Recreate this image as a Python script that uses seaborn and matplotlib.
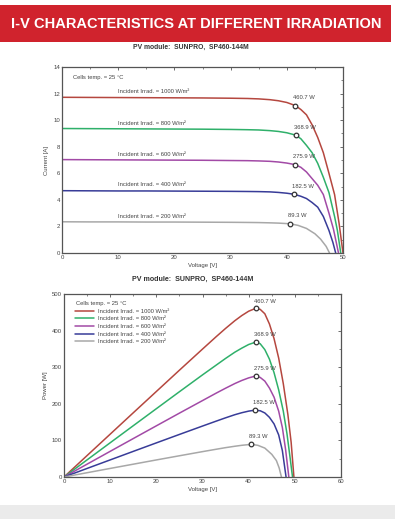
import matplotlib
matplotlib.use("Agg")
import matplotlib.pyplot as plt
import seaborn as sns
import pandas as pd
from matplotlib.patches import Rectangle
from matplotlib.ticker import MultipleLocator
from matplotlib.lines import Line2D

sns.set_theme(style="white")
plt.rcParams['font.family'] = ['Liberation Sans', 'DejaVu Sans']

# ---------------- data ----------------
irrad_labels = ["1000", "800", "600", "400", "200"]
colors = ["#b5473f", "#2fb06a", "#a24aa6", "#383c98", "#a8a8a8"]

# I-V curves (voltage [V], current [A])
iv_v_1000 = [0, 5, 10, 15, 20, 25, 30, 33, 35, 37, 38.5, 40, 41.5, 42.5, 43.5, 44.5, 45.5, 46.5, 47.5, 48.5, 49.3, 50]
iv_i_1000 = [11.72, 11.71, 11.70, 11.69, 11.68, 11.67, 11.65, 11.63, 11.6, 11.54, 11.46, 11.33, 11.1, 10.8, 10.4, 9.65, 8.7, 7.55, 6.0, 4.4, 2.24, 0]

iv_v_800 = [0, 5, 10, 15, 20, 25, 30, 33, 35, 37, 38.5, 40, 41.6, 42.5, 43.5, 44.5, 45.5, 46.5, 47.5, 48.5, 49.0, 49.6]
iv_i_800 = [9.37, 9.36, 9.35, 9.34, 9.33, 9.32, 9.30, 9.28, 9.26, 9.21, 9.15, 9.05, 8.87, 8.6, 8.1, 7.55, 6.75, 5.7, 4.55, 2.75, 1.7, 0]

iv_v_600 = [0, 5, 10, 15, 20, 25, 30, 33, 35, 37, 38.5, 40, 41.5, 42.5, 43.5, 44.5, 45.5, 46.5, 47.5, 48.3, 49.2]
iv_i_600 = [7.03, 7.02, 7.01, 7.0, 6.99, 6.98, 6.96, 6.95, 6.93, 6.9, 6.85, 6.77, 6.65, 6.45, 6.1, 5.6, 5.1, 4.4, 3.0, 1.8, 0]

iv_v_400 = [0, 5, 10, 15, 20, 25, 30, 33, 35, 37, 38.5, 40, 41.3, 42.5, 43.5, 44.5, 45.5, 46.5, 47.5, 48.2, 48.7]
iv_i_400 = [4.69, 4.68, 4.67, 4.67, 4.66, 4.65, 4.64, 4.63, 4.62, 4.6, 4.56, 4.5, 4.42, 4.27, 4.1, 3.8, 3.45, 2.75, 1.7, 0.8, 0]

iv_v_200 = [0, 5, 10, 15, 20, 25, 30, 33, 35, 37, 38.5, 40.6, 42, 43.5, 45, 46, 47, 47.6]
iv_i_200 = [2.35, 2.34, 2.34, 2.33, 2.33, 2.32, 2.31, 2.3, 2.29, 2.27, 2.25, 2.2, 2.08, 1.85, 1.45, 1.05, 0.5, 0]

# P-V curves (voltage [V], power [W])
pv_v_1000 = [0, 5, 10, 15, 20, 25, 30, 33, 35, 37, 38.5, 40, 41.5, 42.5, 43.5, 44.5, 45.5, 46.5, 47.5, 48.5, 49.2, 49.8]
pv_p_1000 = [0, 58.6, 117, 175.4, 233.6, 291.8, 349.5, 383.8, 406, 427, 441, 453, 460.7, 458, 446, 418, 378, 325, 255, 170, 95, 0]

pv_v_800 = [0, 5, 10, 15, 20, 25, 30, 33, 35, 37, 38.5, 40, 41.6, 42.5, 43.5, 44.5, 45.5, 46.5, 47.5, 48.3, 49.0, 49.5]
pv_p_800 = [0, 46.8, 93.5, 140.1, 186.6, 233, 279, 306, 324, 341, 352, 362, 368.9, 364, 348, 322, 285, 238, 180, 118, 50, 0]

pv_v_600 = [0, 5, 10, 15, 20, 25, 30, 33, 35, 37, 38.5, 40, 41.5, 42.5, 43.5, 44.5, 45.5, 46.5, 47.3, 48.0, 48.7]
pv_p_600 = [0, 35.1, 70.1, 105, 139.8, 174.5, 208.8, 229.4, 242.6, 255.3, 263.7, 270.8, 275.9, 272, 262, 243, 218, 180, 135, 75, 0]

pv_v_400 = [0, 5, 10, 15, 20, 25, 30, 33, 35, 37, 38.5, 40, 41.3, 42.5, 43.5, 44.5, 45.5, 46.5, 47.3, 48.1]
pv_p_400 = [0, 23.4, 46.7, 70, 93.2, 116.3, 139.2, 152.8, 161.7, 170.2, 175.6, 180, 182.5, 181, 175, 163, 145, 115, 72, 0]

pv_v_200 = [0, 5, 10, 15, 20, 25, 30, 33, 35, 37, 38.5, 40.6, 42, 43.5, 45, 46, 46.6, 47.1]
pv_p_200 = [0, 11.7, 23.4, 35, 46.6, 58, 69.3, 75.9, 80.2, 84, 86.6, 89.3, 86.5, 79, 62, 45, 25, 0]

mpp_v_iv = [41.5, 41.6, 41.5, 41.3, 40.6]
mpp_i = [11.1, 8.87, 6.65, 4.42, 2.2]
mpp_v_pv = [41.5, 41.6, 41.5, 41.3, 40.6]
mpp_p = [460.7, 368.9, 275.9, 182.5, 89.3]
mpp_text = ["460.7 W", "368.9 W", "275.9 W", "182.5 W", "89.3 W"]
isc_label_y = [12.12, 9.78, 7.45, 5.12, 2.78]

title = "I-V CHARACTERISTICS AT DIFFERENT IRRADIATION"
subtitle = "PV module:  SUNPRO,  SP460-144M"

iv_vs = [iv_v_1000, iv_v_800, iv_v_600, iv_v_400, iv_v_200]
iv_is = [iv_i_1000, iv_i_800, iv_i_600, iv_i_400, iv_i_200]
pv_vs = [pv_v_1000, pv_v_800, pv_v_600, pv_v_400, pv_v_200]
pv_ps = [pv_p_1000, pv_p_800, pv_p_600, pv_p_400, pv_p_200]

iv_rows, pv_rows = [], []
for lab, vv, ii in zip(irrad_labels, iv_vs, iv_is):
    for a, b in zip(vv, ii):
        iv_rows.append({"irr": lab, "V": a, "I": b})
for lab, vv, pp in zip(irrad_labels, pv_vs, pv_ps):
    for a, b in zip(vv, pp):
        pv_rows.append({"irr": lab, "V": a, "P": b})
df_iv = pd.DataFrame(iv_rows)
df_pv = pd.DataFrame(pv_rows)
palette = dict(zip(irrad_labels, colors))

# ---------------- figure ----------------
W, H = 395, 519
fig = plt.figure(figsize=(W / 100, H / 100), dpi=100)
fig.patch.set_facecolor("white")

fig.patches.append(Rectangle((0, 1 - 42 / H), 391 / W, 37 / H, transform=fig.transFigure,
                             facecolor="#d0232d", edgecolor="none", zorder=0))
fig.text(196 / W, 1 - 23.5 / H, title, color="white", fontsize=10.5, fontweight="bold",
         ha="center", va="center")
fig.text(191 / W, 1 - 47 / H, subtitle, color="#333333", fontsize=4.9, fontweight="bold",
         ha="center", va="center")
fig.text(193 / W, 1 - 279.5 / H, subtitle, color="#333333", fontsize=5.1, fontweight="bold",
         ha="center", va="center")
fig.patches.append(Rectangle((0, 0), 1, 14 / H, transform=fig.transFigure,
                             facecolor="#ebebeb", edgecolor="none", zorder=0))

tick_fs = 4.3
txt_col = "#444444"


def style_axes(ax):
    for s in ax.spines.values():
        s.set_color("#555555")
        s.set_linewidth(0.9)
        s.set_visible(True)
    ax.tick_params(which="both", direction="in", top=True, right=True,
                   labelsize=tick_fs, colors="#555555", labelcolor=txt_col, pad=1.5)
    ax.tick_params(which="major", length=2.5, width=0.6)
    ax.tick_params(which="minor", length=1.5, width=0.5)
    ax.set_facecolor("white")


# ---- I-V ----
ax1 = fig.add_axes([62 / W, 1 - 253 / H, 281 / W, 186 / H])
sns.lineplot(data=df_iv, x="V", y="I", hue="irr", units="irr", estimator=None, sort=False,
             palette=palette, hue_order=irrad_labels, linewidth=1.1, legend=False, ax=ax1)
ax1.scatter(mpp_v_iv, mpp_i, s=11, facecolor="white", edgecolor="#333333", linewidth=0.9, zorder=5)
for x, y, t in zip(mpp_v_iv, mpp_i, mpp_text):
    ax1.annotate(t, (x, y), xytext=(-1.4, 5.6), textcoords="offset points",
                 fontsize=4.2, color=txt_col, ha="left", va="center")
for lab, y in zip(irrad_labels, isc_label_y):
    ax1.text(10, y, "Incident Irrad. = %s W/m²" % lab, fontsize=4.2, color=txt_col,
             ha="left", va="center")
ax1.text(1.96, 13.2, "Cells temp. = 25 °C", fontsize=4.2, color=txt_col, ha="left", va="center")
ax1.set_xlim(0, 50)
ax1.set_ylim(0, 14)
ax1.xaxis.set_major_locator(MultipleLocator(10))
ax1.xaxis.set_minor_locator(MultipleLocator(5))
ax1.yaxis.set_major_locator(MultipleLocator(2))
ax1.yaxis.set_minor_locator(MultipleLocator(1))
ax1.set_xlabel("Voltage [V]", fontsize=4.3, color=txt_col, labelpad=2)
ax1.set_ylabel("Current [A]", fontsize=4.3, color=txt_col, labelpad=3)
style_axes(ax1)

# ---- P-V ----
ax2 = fig.add_axes([64 / W, 1 - 477 / H, 277 / W, 183 / H])
sns.lineplot(data=df_pv, x="V", y="P", hue="irr", units="irr", estimator=None, sort=False,
             palette=palette, hue_order=irrad_labels, linewidth=1.1, legend=False, ax=ax2)
ax2.scatter(mpp_v_pv, mpp_p, s=11, facecolor="white", edgecolor="#333333", linewidth=0.9, zorder=5)
for x, y, t in zip(mpp_v_pv, mpp_p, mpp_text):
    ax2.annotate(t, (x, y), xytext=(-1.4, 5.3), textcoords="offset points",
                 fontsize=4.2, color=txt_col, ha="left", va="center")
ax2.set_xlim(0, 60)
ax2.set_ylim(0, 500)
ax2.xaxis.set_major_locator(MultipleLocator(10))
ax2.xaxis.set_minor_locator(MultipleLocator(5))
ax2.yaxis.set_major_locator(MultipleLocator(100))
ax2.yaxis.set_minor_locator(MultipleLocator(50))
ax2.set_xlabel("Voltage [V]", fontsize=4.3, color=txt_col, labelpad=2)
ax2.set_ylabel("Power [W]", fontsize=4.3, color=txt_col, labelpad=3)
style_axes(ax2)

handles = [Line2D([], [], color="none")] + [Line2D([], [], color=c, linewidth=1.1) for c in colors]
labels = ["Cells temp. = 25 °C"] + ["Incident Irrad. = %s W/m²" % l for l in irrad_labels]
leg = ax2.legend(handles, labels, loc="upper left", bbox_to_anchor=(0.025, 0.985), frameon=False,
                 fontsize=4.2, handlelength=3.2, handletextpad=0.8, labelspacing=0.45,
                 borderaxespad=0.3, labelcolor=txt_col)
leg.get_texts()[0].set_position((-22, 0))

fig.savefig("out.png", dpi=100, facecolor="white")
